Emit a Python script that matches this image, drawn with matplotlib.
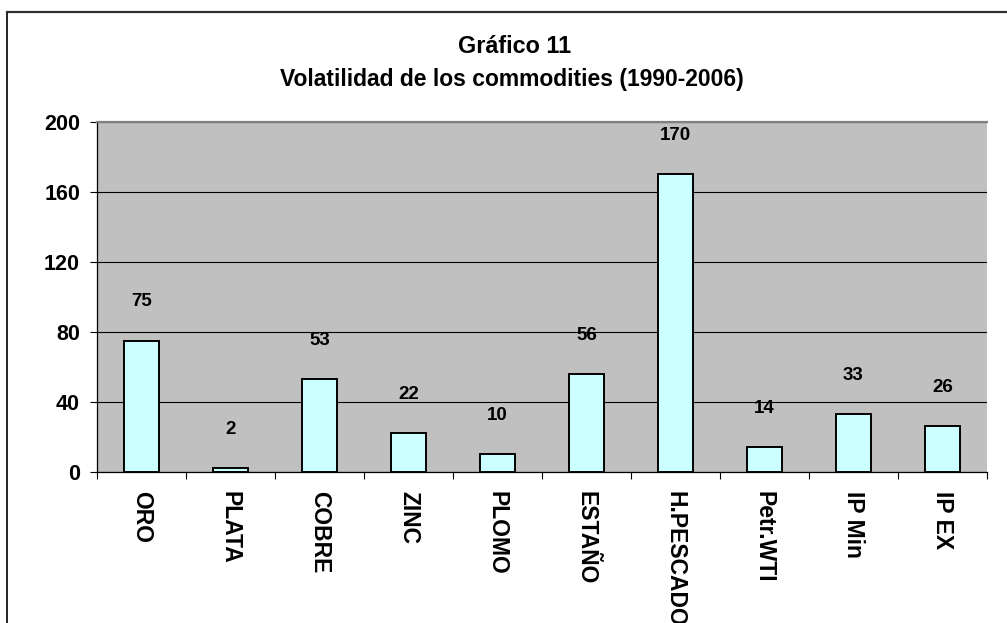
import matplotlib
matplotlib.use('Agg')
import matplotlib.pyplot as plt
from matplotlib.lines import Line2D

plt.rcParams['font.family'] = ['Liberation Sans', 'DejaVu Sans']
plt.rcParams['font.weight'] = 'bold'

# data
commodities = ['ORO', 'PLATA', 'COBRE', 'ZINC', 'PLOMO', 'ESTAÑO',
               'H.PESCADO', 'Petr.WTI', 'IP Min', 'IP EX']
volatility = [75, 2, 53, 22, 10, 56, 170, 14, 33, 26]
y_ticks = [0, 40, 80, 120, 160, 200]

fig = plt.figure(figsize=(10.07, 6.23), dpi=100)
ax = fig.add_axes([0.0963, 0.2424, 0.8837, 0.5618])
ax.set_facecolor('#C0C0C0')

x = list(range(len(commodities)))
bars = ax.bar(x, volatility, width=0.40, color='#CCFFFF',
              edgecolor='black', linewidth=1.4, zorder=3)

for xi, v in zip(x, volatility):
    ax.annotate(str(v), (xi, v), xytext=(0, 28), textcoords='offset points',
                ha='center', va='center', fontsize=13.5, fontweight='bold')

ax.set_xlim(-0.5, len(commodities) - 0.5)
ax.set_ylim(0, 200)
ax.set_yticks(y_ticks)
ax.set_yticklabels([str(t) for t in y_ticks], fontsize=15.5, fontweight='bold')
ax.yaxis.grid(True, color='black', linewidth=0.8, zorder=1)
ax.set_axisbelow(True)

# labels at centers, tick marks at category boundaries
ax.set_xticks(x)
ax.set_xticklabels(commodities, rotation=270, fontsize=16.5, fontweight='bold',
                   ha='center', va='top')
ax.tick_params(axis='x', which='major', length=0, pad=14)
ax.set_xticks([i - 0.5 for i in range(len(commodities) + 1)], minor=True)
ax.tick_params(axis='x', which='minor', length=5, width=0.8, direction='out')
ax.tick_params(axis='y', length=4.7, width=0.8, pad=7.5)

ax.spines['right'].set_visible(False)
ax.spines['top'].set_color('#808080')
ax.spines['top'].set_linewidth(1.6)
ax.spines['left'].set_linewidth(0.9)
ax.spines['bottom'].set_linewidth(0.9)

fig.text(0.5114, 0.926, 'Gráfico 11', ha='center', va='center',
         fontsize=16.8, fontweight='bold')
fig.text(0.508, 0.8716, 'Volatilidad de los commodities (1990-2006)',
         ha='center', va='center', fontsize=16.5, fontweight='bold')

# outer chart border (only left and top visible in the crop)
fig.add_artist(Line2D([0.00695, 0.00695], [0.0, 0.9807], transform=fig.transFigure,
                      color='black', linewidth=1.2))
fig.add_artist(Line2D([0.00695, 1.0], [0.9807, 0.9807], transform=fig.transFigure,
                      color='#303030', linewidth=1.6))

fig.savefig('out.png', dpi=100)
